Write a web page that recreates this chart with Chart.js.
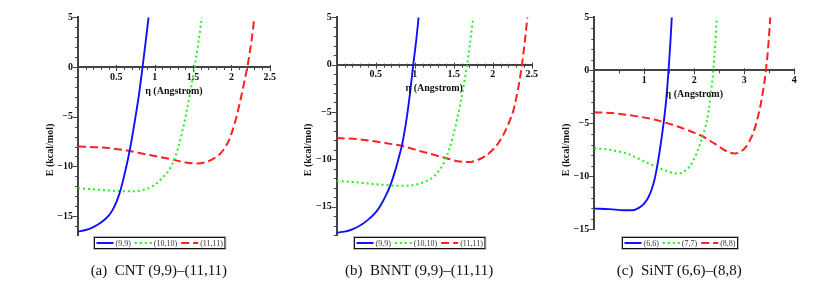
<!DOCTYPE html>
<html><head><meta charset="utf-8">
<script src="https://cdn.jsdelivr.net/npm/chart.js@4.4.1/dist/chart.umd.min.js"></script>
<style>
body{margin:0;background:#fff;width:823px;height:287px;overflow:hidden;position:relative;}
canvas{position:absolute;top:0;}
.cap{position:absolute;top:261px;width:280px;font-family:"Liberation Serif","Times New Roman",serif;font-size:15px;line-height:18px;color:#111;text-align:center;white-space:pre;}
</style></head><body>
<canvas id="ca" width="280" height="287" style="left:0px;width:280px;height:287px"></canvas>
<canvas id="cb" width="280" height="287" style="left:270px;width:280px;height:287px"></canvas>
<canvas id="cc" width="280" height="287" style="left:543px;width:280px;height:287px"></canvas>
<div class="cap" id="capa"></div>
<div class="cap" id="capb"></div>
<div class="cap" id="capc"></div>
<script>
// ---------- (a) CNT ----------
const cntLabels = ['(9,9)', '(10,10)', '(11,11)'];
const cntEta99 = [0, 0.1, 0.2, 0.3, 0.4, 0.45, 0.5, 0.55, 0.6, 0.65, 0.7, 0.75, 0.8, 0.84, 0.88, 0.92];
const cntE99   = [-16.55, -16.4, -16.1, -15.65, -14.95, -14.4, -13.6, -12.5, -11.0, -9.3, -7.3, -5.0, -2.5, -0.1, 2.4, 5];
const cntEta1010 = [0, 0.2, 0.4, 0.6, 0.7, 0.8, 0.9, 1.0, 1.1, 1.2, 1.26, 1.31, 1.36, 1.41, 1.46, 1.52, 1.57, 1.615];
const cntE1010   = [-12.2, -12.3, -12.42, -12.5, -12.5, -12.45, -12.25, -11.85, -11.15, -10.2, -9.2, -8.0, -6.5, -4.7, -2.7, 0, 2.5, 5];
const cntEta1111 = [0, 0.3, 0.6, 0.9, 1.2, 1.4, 1.55, 1.65, 1.75, 1.83, 1.9, 1.96, 2.01, 2.06, 2.11, 2.16, 2.21, 2.26, 2.30];
const cntE1111   = [-8.0, -8.1, -8.35, -8.8, -9.25, -9.6, -9.7, -9.6, -9.3, -8.9, -8.3, -7.5, -6.5, -5.2, -3.6, -1.8, 0.1, 2.5, 5];

// ---------- (b) BNNT ----------
const bnntLabels = ['(9,9)', '(10,10)', '(11,11)'];
const bnntEta99 = [0, 0.1, 0.2, 0.3, 0.4, 0.5, 0.56, 0.62, 0.69, 0.75, 0.8, 0.84, 0.9, 0.94, 0.98, 1.02, 1.05];
const bnntE99   = [-17.75, -17.65, -17.4, -17.0, -16.4, -15.6, -14.9, -14.0, -12.7, -11.2, -9.7, -8.4, -5.5, -3.0, -0.1, 2.6, 5];
const bnntEta1010 = [0, 0.2, 0.4, 0.6, 0.8, 1.0, 1.15, 1.25, 1.33, 1.39, 1.44, 1.49, 1.54, 1.59, 1.63, 1.67, 1.71, 1.75];
const bnntE1010   = [-12.3, -12.4, -12.55, -12.7, -12.8, -12.7, -12.3, -11.8, -11.0, -10.1, -9.0, -7.6, -5.9, -3.9, -2.1, -0.1, 2.3, 5];
const bnntEta1111 = [0, 0.3, 0.6, 0.84, 1.1, 1.41, 1.55, 1.69, 1.8, 1.9, 2.0, 2.08, 2.15, 2.21, 2.26, 2.3, 2.34, 2.37, 2.41, 2.445];
const bnntE1111   = [-7.75, -7.9, -8.25, -8.6, -9.2, -9.9, -10.2, -10.3, -10.1, -9.7, -9.0, -8.2, -7.2, -6.1, -5.0, -3.6, -1.9, -0.3, 2.3, 5];

// ---------- (c) SiNT ----------
const sintLabels = ['(6,6)', '(7,7)', '(8,8)'];
const sintEta66 = [0, 0.3, 0.6, 0.75, 0.9, 1.0, 1.08, 1.15, 1.2, 1.25, 1.3, 1.35, 1.4, 1.44, 1.485, 1.52, 1.55];
const sintE66   = [-13.05, -13.1, -13.2, -13.2, -12.95, -12.55, -12.0, -11.2, -10.4, -9.25, -7.85, -6.25, -4.45, -2.7, 0, 2.5, 5];
const sintEta77 = [0, 0.3, 0.68, 1.0, 1.28, 1.5, 1.68, 1.8, 1.9, 1.98, 2.05, 2.12, 2.18, 2.25, 2.32, 2.38, 2.42, 2.45];
const sintE77   = [-7.35, -7.5, -7.9, -8.6, -9.2, -9.6, -9.75, -9.55, -9.1, -8.5, -7.8, -6.9, -6.0, -4.8, -2.6, 0, 2.5, 5];
const sintEta88 = [0, 0.4, 0.8, 1.2, 1.6, 1.9, 2.15, 2.3, 2.45, 2.58, 2.7, 2.81, 2.92, 3.02, 3.1, 3.18, 3.25, 3.32, 3.38, 3.43, 3.48, 3.52];
const sintE88   = [-3.95, -4.05, -4.3, -4.65, -5.2, -5.7, -6.2, -6.6, -7.05, -7.45, -7.75, -7.85, -7.7, -7.3, -6.7, -5.9, -4.8, -3.4, -1.8, -0.1, 2.3, 5];

// axis texts
const xTitle = 'η (Angstrom)';
const yTitle = 'E (kcal/mol)';
const captions = ['(a)  CNT (9,9)–(11,11)', '(b)  BNNT (9,9)–(11,11)', '(c)  SiNT (6,6)–(8,8)'];

const SERIF = '"Liberation Serif","Times New Roman",serif';
const pts = (xs, ys) => xs.map((x, i) => ({x: x, y: ys[i]}));
const fmt = v => v < 0 ? '\u2212' + Math.abs(v) : String(v);

const decor = {
  id: 'decor',
  afterDraw(chart, args, o) {
    const ctx = chart.ctx, xs = chart.scales.x, ys = chart.scales.y, ca = chart.chartArea;
    const y0 = ys.getPixelForValue(0), x0 = xs.getPixelForValue(0);
    ctx.save();
    ctx.strokeStyle = '#444'; ctx.lineWidth = 1;
    const nX = Math.round((xs.max - xs.min) / o.xMinor);
    for (let i = 1; i <= nX; i++) {
      const v = xs.min + i * o.xMinor;
      const r = v / o.xMajor;
      const major = Math.abs(r - Math.round(r)) < 1e-6;
      const px = Math.round(xs.getPixelForValue(v)) + 0.5;
      ctx.beginPath(); ctx.moveTo(px, y0 - (major ? 2 : 1)); ctx.lineTo(px, y0 + (major ? 4 : 3)); ctx.stroke();
    }
    for (let v = Math.ceil(ys.min); v <= ys.max; v++) {
      const major = v % 5 === 0;
      const py = Math.round(ys.getPixelForValue(v)) + 0.5;
      ctx.beginPath(); ctx.moveTo(x0 - (major ? 5 : 3), py); ctx.lineTo(x0, py); ctx.stroke();
    }
    ctx.fillStyle = '#111';
    ctx.font = 'bold 10px ' + SERIF;
    ctx.textAlign = 'center'; ctx.textBaseline = 'middle';
    ctx.fillText(o.xTitle, (ca.left + ca.right) / 2, y0 + 24);
    ctx.save(); ctx.translate(ca.left - 28, 150); ctx.rotate(-Math.PI / 2); ctx.fillText(o.yTitle, 0, 0); ctx.restore();

    // legend box
    ctx.font = '8px ' + SERIF;
    const ds = chart.data.datasets;
    const sample = 17, padL = 2, gap1 = 2, gap2 = 4, padR = 2;
    let w = padL + padR;
    ds.forEach((d, i) => { w += sample + gap1 + ctx.measureText(d.label).width + (i < ds.length - 1 ? gap2 : 0); });
    const cx = (ca.left + ca.right) / 2 - 15;
    const bx = Math.round(cx - w / 2) + 0.5, by = 237.5, bh = 11;
    ctx.strokeStyle = '#bbb'; ctx.lineWidth = 1;
    ctx.strokeRect(bx - 1, by - 1, w + 2, bh + 2);
    ctx.strokeStyle = '#111';
    ctx.strokeRect(bx, by, w, bh);
    let x = bx + padL;
    const ly = by + bh / 2;
    ds.forEach((d, i) => {
      ctx.save();
      ctx.strokeStyle = d.borderColor; ctx.lineWidth = 2;
      ctx.setLineDash(d.borderDash || []);
      ctx.beginPath(); ctx.moveTo(x, ly); ctx.lineTo(x + sample, ly); ctx.stroke();
      ctx.restore();
      x += sample + gap1;
      ctx.fillStyle = '#333'; ctx.textAlign = 'left'; ctx.textBaseline = 'middle';
      ctx.fillText(d.label, x, ly + 0.5);
      x += ctx.measureText(d.label).width + gap2;
    });
    ctx.restore();
  }
};

function makeChart(id, capId, caption, labels, series, cfg) {
  const styles = [
    {borderColor: '#1010ff', borderWidth: 1.9, borderDash: []},
    {borderColor: '#22ee22', borderWidth: 2, borderDash: [2, 3]},
    {borderColor: '#ff2020', borderWidth: 2, borderDash: [8, 4]}
  ];
  const chart = new Chart(document.getElementById(id), {
    type: 'line',
    data: {
      datasets: series.map((s, i) => Object.assign({
        label: labels[i], data: s, pointRadius: 0, fill: false,
        cubicInterpolationMode: 'monotone'
      }, styles[i]))
    },
    options: {
      responsive: false, animation: false, devicePixelRatio: 1,
      layout: {padding: {left: cfg.padL, right: cfg.padR, top: 17.3, bottom: cfg.padB}},
      plugins: {legend: {display: false}, tooltip: {enabled: false},
        decor: {xTitle: xTitle, yTitle: yTitle, xMinor: cfg.xMinor, xMajor: cfg.xStep}},
      scales: {
        x: {type: 'linear', position: {y: 0}, min: 0, max: cfg.xMax,
          grid: {display: false, drawTicks: false},
          border: {display: true, color: '#444', width: 2},
          ticks: {stepSize: cfg.xStep, includeBounds: false, autoSkip: false, maxRotation: 0, padding: 4,
            color: '#111', font: {family: SERIF, size: 10, weight: 'bold'},
            callback: v => v === 0 ? '' : fmt(v)}},
        y: {type: 'linear', position: 'left', min: cfg.yMin, max: 5,
          afterFit: s => { s.width = 40; },
          grid: {display: false, drawTicks: false},
          border: {display: true, color: '#444', width: 2},
          ticks: {stepSize: 5, includeBounds: false, autoSkip: false, padding: 5,
            color: '#111', font: {family: SERIF, size: 10, weight: 'bold'},
            callback: v => fmt(v)}}
      }
    },
    plugins: [decor]
  });
  const cap = document.getElementById(capId);
  cap.textContent = caption;
  const cv = document.getElementById(id);
  const ca = chart.chartArea;
  cap.style.left = (parseFloat(cv.style.left) + (ca.left + ca.right) / 2 - 15 - 140) + 'px';
  return chart;
}

makeChart('ca', 'capa', captions[0], cntLabels,
  [pts(cntEta99, cntE99), pts(cntEta1010, cntE1010), pts(cntEta1111, cntE1111)],
  {padL: 38, padR: 8, padB: 52, xMax: 2.5, xStep: 0.5, xMinor: 0.1, yMin: -16.9});
makeChart('cb', 'capb', captions[1], bnntLabels,
  [pts(bnntEta99, bnntE99), pts(bnntEta1010, bnntE1010), pts(bnntEta1111, bnntE1111)],
  {padL: 26.7, padR: 18.3, padB: 52, xMax: 2.5, xStep: 0.5, xMinor: 0.1, yMin: -18});
makeChart('cc', 'capc', captions[2], sintLabels,
  [pts(sintEta66, sintE66), pts(sintEta77, sintE77), pts(sintEta88, sintE88)],
  {padL: 11.3, padR: 28.7, padB: 57.7, xMax: 4, xStep: 1, xMinor: 0.5, yMin: -15});
</script>
</body></html>
